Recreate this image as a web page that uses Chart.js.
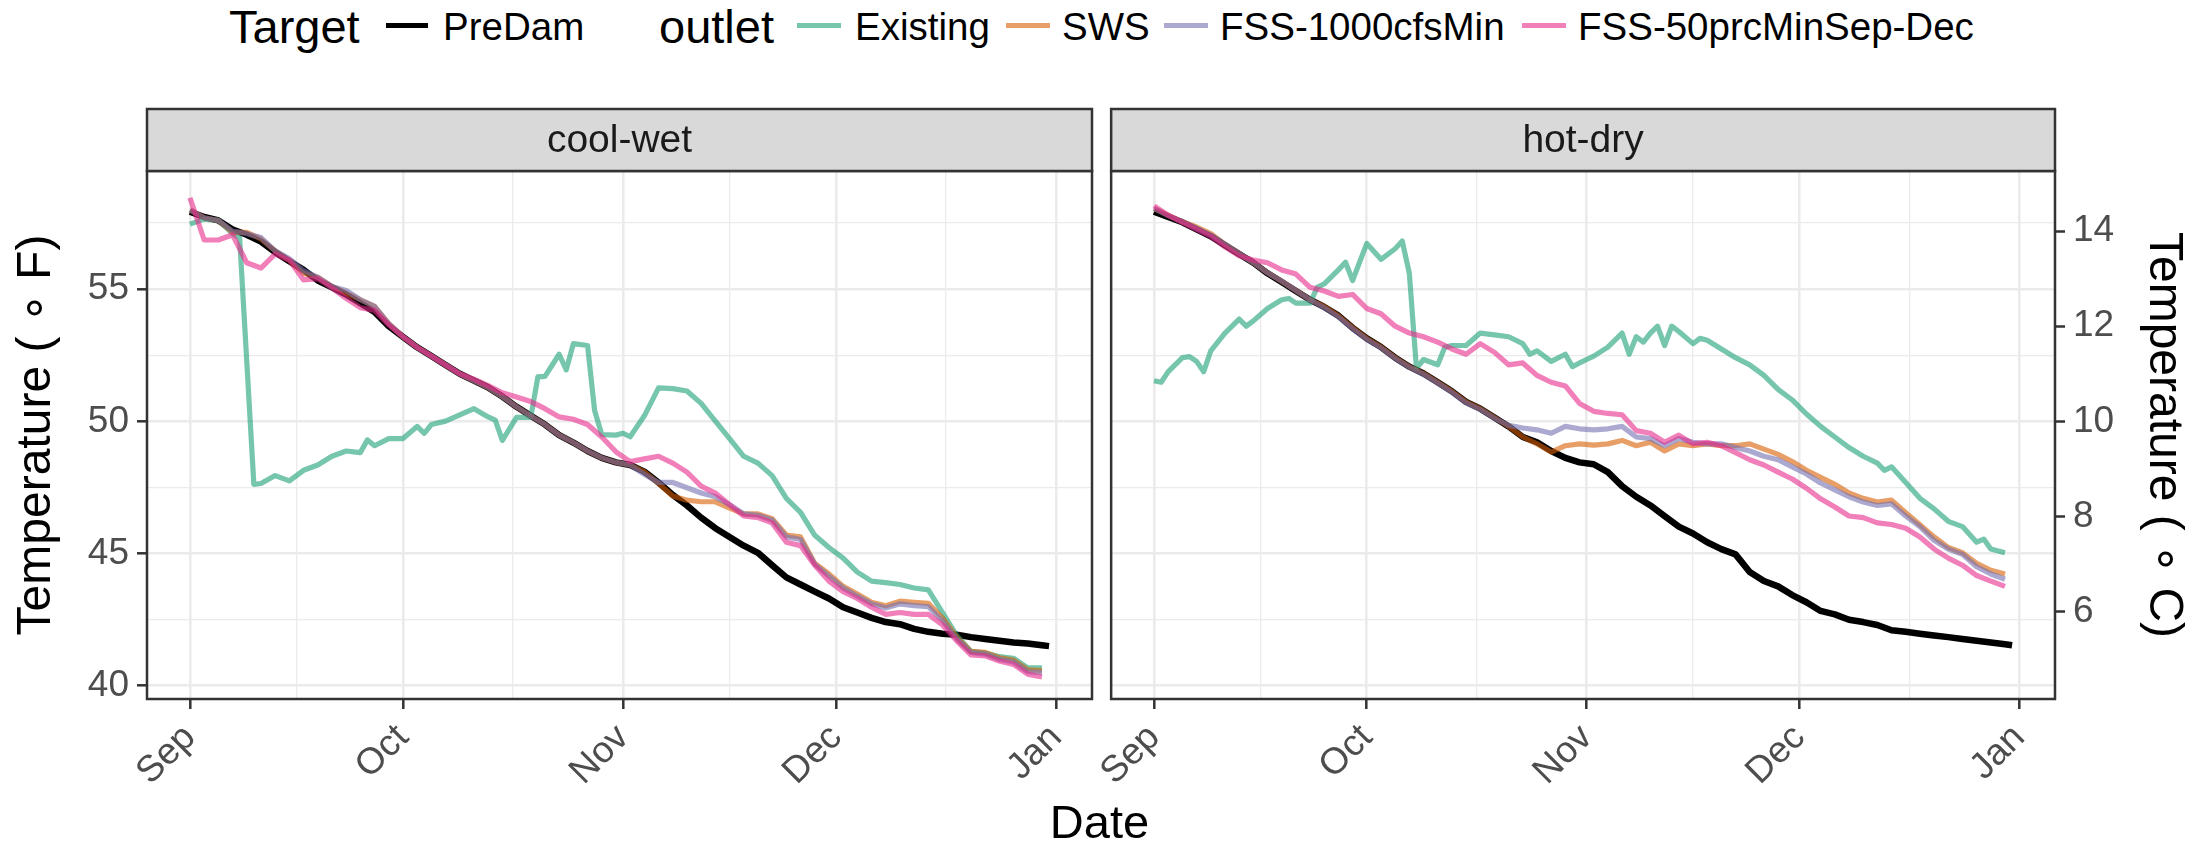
<!DOCTYPE html>
<html>
<head>
<meta charset="utf-8">
<script src="https://cdn.jsdelivr.net/npm/chart.js@4.4.1/dist/chart.umd.min.js"></script>
<style>
  body { margin: 0; background: #fff; width: 2199px; height: 845px; overflow: hidden; position: relative;
         font-family: "Liberation Sans", Arial, sans-serif; }
  canvas { position: absolute; top: 0; }
  .lg { position: absolute; top: -1px; line-height: 56px; white-space: nowrap; color: #000; }
  .lg.title { font-size: 47px; }
  .lg.item { font-size: 38.5px; }
  .sw { position: absolute; top: 23px; height: 5px; }
  #date { position: absolute; left: 0; width: 2199px; top: 794px; text-align: center;
          font-size: 47px; line-height: 56px; color: #000; }
</style>
</head>
<body>
<div id="legend"></div>
<canvas id="coolwet" width="1100" height="845" style="left:0"></canvas>
<canvas id="hotdry" width="1099" height="845" style="left:1100px"></canvas>
<div id="date">Date</div>
<script>
// days since Sep 1
const days = [0,2,4,6,8,10,12,14,16,18,20,22,24,26,28,30,32,34,36,38,40,42,44,46,48,50,52,54,56,58,
              60,62,64,66,68,70,72,74,76,78,80,82,84,86,88,90,92,94,96,98,100,102,104,106,108,110,112,114,116,118,120];
const predamDays = [...days, 121];

const monthStarts = [0, 30, 61, 91, 122];
const monthLabels = ['Sep', 'Oct', 'Nov', 'Dec', 'Jan'];
const xGridDays = [0, 15, 30, 45.5, 61, 76, 91, 106.5, 122];
const fahrenheitTicks = [40, 45, 50, 55];
const fahrenheitGrid = [40, 42.5, 45, 47.5, 50, 52.5, 55, 57.5];
const celsiusTicks = [6, 8, 10, 12, 14];

// cool-wet panel
const coolWetPreDam = [57.93,57.73,57.6,57.26,57.06,56.8,56.4,56.06,55.73,55.33,55.07,54.8,54.47,54.14,53.6,53.2,52.8,52.47,52.13,51.8,
  51.54,51.28,50.94,50.55,50.21,49.88,49.48,49.2,48.88,48.62,48.45,48.35,48.1,47.69,47.22,46.82,46.36,45.96,45.63,45.3,
  45.03,44.56,44.1,43.83,43.56,43.3,42.97,42.77,42.57,42.41,42.33,42.15,42.04,41.97,41.93,41.84,41.77,41.7,41.64,41.6,41.53,41.5];
const coolWetExistingDays = [0,2,4,6,7,9,10,12,14,16,18,20,22,24,25,26,28,30,32,33,34,36,38,40,42,43,44,46,48,49,
  50,52,53,54,56,57,58,60,61,62,64,66,68,70,72,74,76,78,80,82,84,86,88,90,92,94,96,98,100,102,104,106,108,110,112,114,116,118,120];
const coolWetExisting = [57.46,57.65,57.6,57.1,56.93,47.62,47.65,47.95,47.75,48.15,48.35,48.68,48.88,48.82,49.3,49.08,49.35,49.35,49.81,49.55,
  49.88,50.01,50.25,50.48,50.17,50.05,49.28,50.15,50.15,51.68,51.7,52.54,51.95,52.94,52.87,50.4,49.5,49.48,49.55,49.42,
  50.21,51.27,51.24,51.15,50.68,50.01,49.35,48.68,48.42,47.95,47.09,46.56,45.69,45.23,44.83,44.3,43.96,43.9,43.83,43.7,
  43.63,42.77,41.9,41.3,41.24,41.1,41.04,40.68,40.68];
const coolWetSWS = [58.0,57.7,57.6,57.15,57.15,56.9,56.45,56.1,55.6,55.45,55.1,54.85,54.6,54.35,53.7,53.2,52.8,52.47,52.13,51.8,
  51.54,51.28,50.94,50.55,50.21,49.88,49.48,49.2,48.88,48.62,48.45,48.35,48.1,47.65,47.18,47.02,46.96,46.96,46.72,46.5,
  46.5,46.32,45.7,45.63,44.63,44.23,43.76,43.47,43.16,43.03,43.2,43.16,43.12,42.56,41.83,41.3,41.26,41.06,40.97,40.6,40.57];
const coolWetFSS1000 = [58.0,57.7,57.6,57.2,57.1,56.95,56.45,56.15,55.7,55.45,55.1,54.95,54.6,54.35,53.7,53.2,52.8,52.47,52.13,51.8,
  51.54,51.28,50.94,50.55,50.21,49.88,49.48,49.2,48.88,48.62,48.45,48.35,48.0,47.69,47.69,47.49,47.29,47.15,46.85,46.5,
  46.45,46.27,45.63,45.53,44.6,44.14,43.7,43.39,43.1,42.94,43.1,43.03,42.99,42.46,41.77,41.26,41.2,41.0,40.9,40.53,40.5];
const coolWetFSS50 = [58.46,56.86,56.86,57.06,56.0,55.8,56.33,56.1,55.35,55.4,55.05,54.65,54.3,54.2,53.65,53.2,52.8,52.47,52.13,51.8,
  51.6,51.35,51.08,50.92,50.75,50.48,50.17,50.08,49.88,49.41,48.85,48.48,48.58,48.68,48.42,48.08,47.55,47.29,46.85,46.42,
  46.36,46.16,45.43,45.3,44.56,43.96,43.56,43.3,42.97,42.7,42.77,42.7,42.7,42.3,41.7,41.17,41.13,40.94,40.81,40.44,40.33];

// hot-dry panel
const hotDryPreDam = [57.93,57.73,57.53,57.26,57.0,56.66,56.33,56.0,55.6,55.27,54.93,54.6,54.33,54.0,53.54,53.14,52.81,52.41,52.07,51.81,
  51.48,51.14,50.74,50.48,50.15,49.81,49.41,49.21,48.88,48.62,48.45,48.38,48.08,47.55,47.15,46.82,46.42,46.02,45.76,45.43,
  45.17,44.97,44.3,43.96,43.76,43.43,43.16,42.83,42.7,42.5,42.41,42.3,42.1,42.04,41.97,41.9,41.84,41.77,41.7,41.64,41.57,41.53];
const hotDryExistingDays = [0,1,2,4,5,6,7,8,10,12,13,14,16,18,19,20,22,23,24,26,27,28,30,32,34,35,36,37,38,40,
  41,42,44,46,48,50,52,53,54,56,58,59,60,61,62,64,66,67,68,69,70,71,72,73,74,76,77,78,80,82,
  84,86,88,90,92,94,96,98,100,102,103,104,106,108,110,112,114,116,117,118,120];
const hotDryExisting = [51.54,51.48,51.88,52.41,52.45,52.27,51.88,52.67,53.34,53.87,53.6,53.8,54.27,54.6,54.65,54.47,54.47,55.07,55.2,55.73,
  56.02,55.33,56.73,56.13,56.53,56.82,55.6,52.01,52.34,52.14,52.8,52.87,52.87,53.34,53.27,53.2,52.94,52.54,52.67,52.27,
  52.54,52.07,52.21,52.34,52.47,52.81,53.34,52.54,53.2,53.0,53.34,53.6,52.87,53.6,53.4,52.94,53.14,53.07,52.74,52.41,
  52.14,51.74,51.21,50.81,50.28,49.81,49.41,49.01,48.68,48.42,48.15,48.28,47.69,47.09,46.69,46.22,46.02,45.43,45.55,45.17,45.03];
const hotDrySWS = [58.05,57.8,57.55,57.35,57.1,56.7,56.35,56.0,55.62,55.3,54.95,54.6,54.35,54.0,53.55,53.14,52.81,52.41,52.07,51.81,
  51.48,51.14,50.74,50.48,50.15,49.81,49.41,49.15,48.84,49.08,49.15,49.1,49.15,49.28,49.08,49.21,48.88,49.15,49.08,49.15,
  49.08,49.08,49.15,48.95,48.75,48.48,48.15,47.88,47.62,47.29,47.09,46.95,47.02,46.55,46.09,45.63,45.23,45.03,44.63,44.37,44.23];
const hotDryFSS1000 = [58.05,57.78,57.55,57.3,57.05,56.7,56.35,56.0,55.62,55.3,54.95,54.6,54.3,53.95,53.5,53.1,52.78,52.38,52.05,51.78,
  51.45,51.1,50.7,50.45,50.12,49.85,49.75,49.68,49.55,49.81,49.72,49.68,49.72,49.81,49.41,49.35,49.08,49.35,49.21,49.15,
  49.15,49.01,48.88,48.68,48.55,48.28,48.01,47.67,47.41,47.15,46.95,46.82,46.88,46.42,46.02,45.5,45.17,44.97,44.5,44.23,44.03];
const hotDryFSS50 = [58.15,57.79,57.53,57.26,57.0,56.6,56.26,56.1,56.0,55.73,55.57,55.07,54.93,54.73,54.8,54.27,54.07,53.6,53.34,53.2,
  53.0,52.74,52.54,52.94,52.61,52.14,52.21,51.74,51.48,51.34,50.68,50.38,50.3,50.25,49.65,49.55,49.21,49.48,49.15,49.21,
  49.08,48.82,48.55,48.35,48.08,47.82,47.47,47.07,46.76,46.42,46.36,46.16,46.1,45.96,45.63,45.17,44.83,44.56,44.17,43.96,43.76];

const outletNames = ['Existing', 'SWS', 'FSS-1000cfsMin', 'FSS-50prcMinSep-Dec'];
const outletColors = ['rgba(27,158,119,0.6)', 'rgba(217,95,2,0.6)', 'rgba(117,112,179,0.6)', 'rgba(231,41,138,0.6)'];

const yMin = 39.5, yMax = 59.47;
Chart.defaults.font.family = '"Liberation Sans", Arial, sans-serif';

// legend (HTML, ggplot style)
const legend = document.getElementById('legend');
function addText(cls, text, left) {
  const d = document.createElement('div');
  d.className = 'lg ' + cls; d.style.left = left + 'px'; d.textContent = text;
  legend.appendChild(d);
}
function addSwatch(color, left, width) {
  const d = document.createElement('div');
  d.className = 'sw'; d.style.left = left + 'px'; d.style.width = width + 'px'; d.style.background = color;
  legend.appendChild(d);
}
addText('title', 'Target', 229);
addSwatch('#000', 386, 42);
addText('item', 'PreDam', 443);
addText('title', 'outlet', 659);
const swatchLeft = [797, 1006, 1164, 1522];
const labelLeft = [855, 1062, 1220, 1578];
outletNames.forEach((n, i) => {
  addSwatch(outletColors[i], swatchLeft[i], 44);
  addText('item', n, labelLeft[i]);
});

function line(label, xs, ys, color, width, order) {
  return {
    label, order,
    data: xs.map((x, i) => ({ x, y: ys[i] })),
    borderColor: color, backgroundColor: color, borderWidth: width,
    pointRadius: 0, tension: 0, borderJoinStyle: 'round', borderCapStyle: 'butt', fill: false
  };
}

const facetFrame = {
  id: 'facetFrame',
  afterDatasetsDraw(chart, args, opts) {
    const { ctx, chartArea: a } = chart;
    const stripTop = 109;
    ctx.save();
    ctx.strokeStyle = '#333333';
    ctx.lineWidth = 2.5;
    ctx.strokeRect(a.left, a.top, a.right - a.left, a.bottom - a.top);
    ctx.fillStyle = '#D9D9D9';
    ctx.fillRect(a.left, stripTop, a.right - a.left, a.top - stripTop);
    ctx.strokeRect(a.left, stripTop, a.right - a.left, a.top - stripTop);
    ctx.fillStyle = '#1A1A1A';
    ctx.font = '39px "Liberation Sans", Arial, sans-serif';
    ctx.textAlign = 'center';
    ctx.textBaseline = 'middle';
    ctx.fillText(opts.label, (a.left + a.right) / 2, (stripTop + a.top) / 2 + 1);
    ctx.restore();
  }
};

const tickFont = { size: 37 };
const hasTick = (c, list) => c.tick && list.includes(c.tick.value);

function xScale() {
  return {
    type: 'linear', min: -6.05, max: 127.05,
    afterBuildTicks: s => { s.ticks = xGridDays.map(v => ({ value: v })); },
    afterFit: s => { s.height = 146; },
    ticks: {
      autoSkip: false, minRotation: 45, maxRotation: 45, padding: 7, color: '#4D4D4D', font: tickFont,
      callback: v => { const i = monthStarts.indexOf(v); return i < 0 ? '' : monthLabels[i]; }
    },
    grid: {
      color: '#EBEBEB',
      lineWidth: c => hasTick(c, monthStarts) ? 2.6 : 1.3,
      tickColor: c => hasTick(c, monthStarts) ? '#333333' : 'rgba(0,0,0,0)',
      tickLength: 10, tickWidth: 2.5
    },
    border: { display: false }
  };
}

function fGrid(drawTicks) {
  return {
    color: '#EBEBEB',
    lineWidth: c => hasTick(c, fahrenheitTicks) ? 2.6 : 1.3,
    tickColor: c => hasTick(c, fahrenheitTicks) ? '#333333' : 'rgba(0,0,0,0)',
    tickLength: 10, tickWidth: 2.5, drawTicks
  };
}

function datasets(preDam, existingDays, existing, sws, fss1000, fss50) {
  return [
    line('PreDam', predamDays, preDam, '#000000', 6.5, 4),
    line(outletNames[0], existingDays, existing, outletColors[0], 5.2, 3),
    line(outletNames[1], days, sws, outletColors[1], 5.2, 2),
    line(outletNames[2], days, fss1000, outletColors[2], 5.2, 1),
    line(outletNames[3], days, fss50, outletColors[3], 5.2, 0)
  ];
}

const baseOptions = {
  responsive: false, animation: false, devicePixelRatio: 1,
  events: []
};

new Chart(document.getElementById('coolwet'), {
  type: 'line',
  data: { datasets: datasets(coolWetPreDam, coolWetExistingDays, coolWetExisting, coolWetSWS, coolWetFSS1000, coolWetFSS50) },
  options: {
    ...baseOptions,
    layout: { padding: { top: 171, right: 8, left: 0, bottom: 0 } },
    plugins: { legend: { display: false }, tooltip: { enabled: false }, facetFrame: { label: 'cool-wet' } },
    scales: {
      x: xScale(),
      y: {
        type: 'linear', min: yMin, max: yMax, position: 'left',
        afterBuildTicks: s => { s.ticks = fahrenheitGrid.map(v => ({ value: v })); },
        afterFit: s => { s.width = 147; },
        ticks: { padding: 8, color: '#4D4D4D', font: tickFont,
                 callback: v => fahrenheitTicks.includes(v) ? String(v) : '' },
        grid: fGrid(true),
        border: { display: false },
        title: { display: true, text: 'Temperature ( \u2218 F)', color: '#000', font: { size: 48 }, padding: { top: 8, bottom: 0 } }
      }
    }
  },
  plugins: [facetFrame]
});

new Chart(document.getElementById('hotdry'), {
  type: 'line',
  data: { datasets: datasets(hotDryPreDam, hotDryExistingDays, hotDryExisting, hotDrySWS, hotDryFSS1000, hotDryFSS50) },
  options: {
    ...baseOptions,
    layout: { padding: { top: 171, right: 0, left: 11, bottom: 0 } },
    plugins: { legend: { display: false }, tooltip: { enabled: false }, facetFrame: { label: 'hot-dry' } },
    scales: {
      x: xScale(),
      y: {
        type: 'linear', min: yMin, max: yMax, position: 'left',
        afterBuildTicks: s => { s.ticks = fahrenheitGrid.map(v => ({ value: v })); },
        afterFit: s => { s.width = 0; },
        ticks: { display: false },
        grid: fGrid(false),
        border: { display: false }
      },
      y2: {
        type: 'linear', min: yMin, max: yMax, position: 'right',
        afterBuildTicks: s => { s.ticks = celsiusTicks.map(c => ({ value: c * 9 / 5 + 32 })); },
        afterFit: s => { s.width = 144; },
        ticks: { padding: 8, color: '#4D4D4D', font: tickFont,
                 callback: v => String(Math.round((v - 32) * 5 / 9)) },
        grid: { drawOnChartArea: false, tickColor: '#333333', tickLength: 10, tickWidth: 2.5 },
        border: { display: false },
        title: { display: true, text: 'Temperature ( \u2218 C)', color: '#000', font: { size: 48 }, padding: { top: 7, bottom: 0 } }
      }
    }
  },
  plugins: [facetFrame]
});
</script>
</body>
</html>
